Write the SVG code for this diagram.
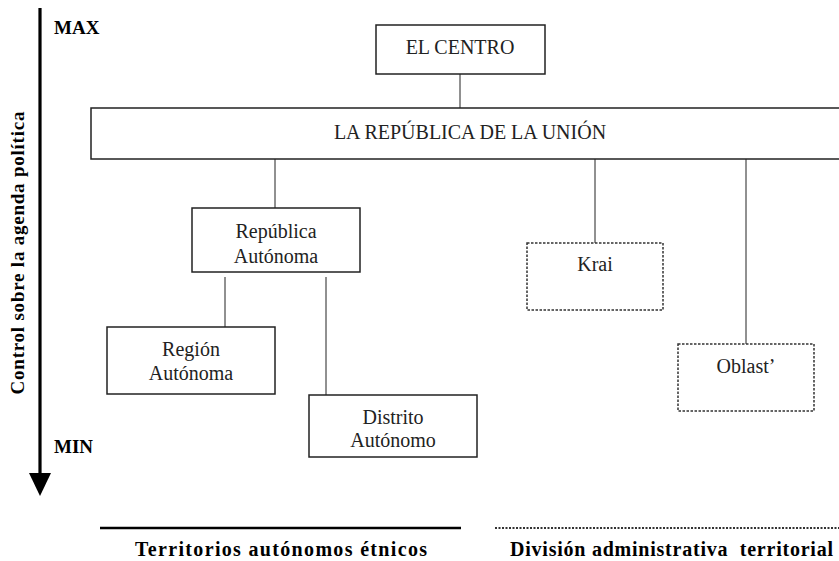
<svg xmlns="http://www.w3.org/2000/svg" width="839" height="561" viewBox="0 0 839 561">
<style>
text{font-family:"Liberation Serif","Times New Roman",serif;fill:#222}
.n{font-size:20px;text-anchor:middle}
.b{font-weight:bold;font-size:19px;fill:#000}
.lg{font-weight:bold;font-size:20px;fill:#000}
.box{fill:#fff;stroke:#222;stroke-width:1.5}
.dash{fill:#fff;stroke:#333;stroke-width:1.5;stroke-dasharray:2.5,1.5}
.ln{stroke:#222;stroke-width:1;fill:none}
</style>
<g id="axis">
<line x1="40" y1="8" x2="40" y2="474" stroke="#000" stroke-width="3.2"/>
<path d="M29,473 L51,473 L40,496 Z" fill="#000"/>
<text class="b" x="54" y="34" font-size="16">MAX</text>
<text class="b" x="54" y="453" font-size="16">MIN</text>
<text class="b" transform="translate(24,253) rotate(-90)" text-anchor="middle" textLength="283" lengthAdjust="spacing">Control sobre la agenda política</text>
</g>
<g id="connectors">
<line class="ln" x1="460" y1="74" x2="460" y2="108"/>
<line class="ln" x1="275" y1="159" x2="275" y2="208"/>
<line class="ln" x1="225" y1="277" x2="225" y2="327"/>
<line class="ln" x1="326" y1="277" x2="326" y2="395"/>
<line class="ln" x1="595" y1="159" x2="595" y2="243"/>
<line class="ln" x1="746" y1="159" x2="746" y2="344"/>
</g>
<g id="centro">
<rect class="box" x="376" y="25" width="169" height="49"/>
<text class="n" x="460" y="54">EL CENTRO</text>
</g>
<g id="republica-union">
<rect class="box" x="91" y="108" width="760" height="51"/>
<text class="n" x="470" y="139">LA REPÚBLICA DE LA UNIÓN</text>
</g>
<g id="republica-autonoma">
<rect class="box" x="192" y="208" width="168" height="64"/>
<text class="n" x="276" y="238">República</text>
<text class="n" x="276" y="263">Autónoma</text>
</g>
<g id="region-autonoma">
<rect class="box" x="107" y="327" width="168" height="67"/>
<text class="n" x="191" y="356">Región</text>
<text class="n" x="191" y="380">Autónoma</text>
</g>
<g id="distrito-autonomo">
<rect class="box" x="309" y="395" width="168" height="62"/>
<text class="n" x="393" y="424">Distrito</text>
<text class="n" x="393" y="447">Autónomo</text>
</g>
<g id="krai">
<rect class="dash" x="527" y="243" width="136" height="67"/>
<text class="n" x="595" y="271">Krai</text>
</g>
<g id="oblast">
<rect class="dash" x="678" y="344" width="136" height="67"/>
<text class="n" x="746" y="373">Oblast’</text>
</g>
<g id="legend">
<line x1="100" y1="528" x2="461" y2="528" stroke="#000" stroke-width="2.5"/>
<line x1="495" y1="528" x2="839" y2="528" stroke="#333" stroke-width="2" stroke-dasharray="2,1.5"/>
<text class="lg" x="281" y="556" text-anchor="middle" textLength="292" lengthAdjust="spacing">Territorios autónomos étnicos</text>
<text class="lg" x="510" y="556" xml:space="preserve" textLength="323" lengthAdjust="spacing">División administrativa  territorial</text>
</g>
</svg>
